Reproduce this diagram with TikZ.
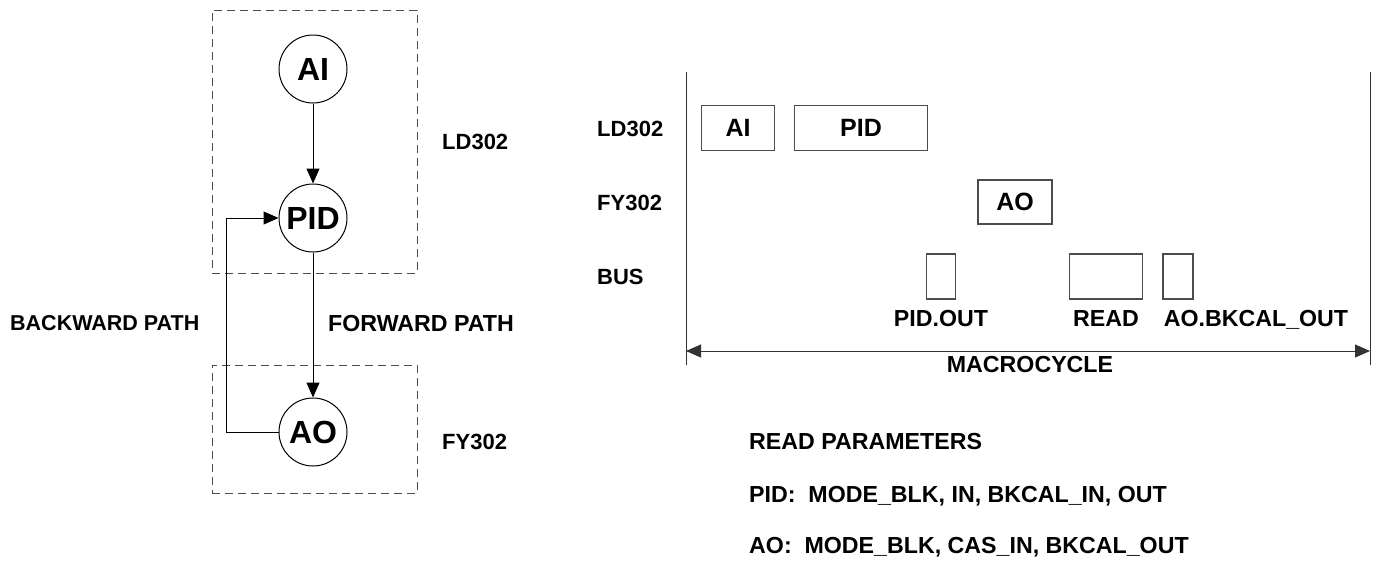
\documentclass[tikz,border=0pt]{standalone}
\usepackage{fontspec}
\setmainfont{Liberation Sans}
\usetikzlibrary{arrows.meta}
\tikzset{
  lbl/.style={font=\bfseries\fontsize{22}{26}\selectfont, inner sep=0pt, text height=15.8pt, text depth=0pt},
  lblb/.style={font=\bfseries\fontsize{23.2}{28}\selectfont, inner sep=0pt, text height=16.6pt, text depth=0pt},
  lbls/.style={font=\bfseries\fontsize{21.5}{26}\selectfont, inner sep=0pt, text height=15.4pt, text depth=0pt},
  circ/.style={circle, draw=black, line width=1pt, minimum size=68pt, inner sep=0pt,
     font=\bfseries\fontsize{32}{36}\selectfont, text height=22.9pt, text depth=0pt},
  blk/.style={draw=black!70, line width=1.3pt, inner sep=0pt,
     font=\bfseries\fontsize{25}{30}\selectfont, text height=17.9pt, text depth=0pt},
  dashbox/.style={draw=black!70, line width=1pt, dash pattern=on 8pt off 5pt, inner sep=0pt},
  arr/.style={line width=1pt, -{Triangle[length=15pt,width=13pt]}},
  plain/.style={line width=1pt, draw=black!80},
}
\begin{document}
\begin{tikzpicture}[x=1pt,y=-1pt]
\useasboundingbox (0,0) rectangle (1380,560);
% left diagram
\node[dashbox, minimum width=205pt, minimum height=263pt] (ldbox) at (314.5,141.5) {};
\node[dashbox, minimum width=205pt, minimum height=128pt] (fybox) at (314.5,429) {};
\node[circ] (AI) at (313,69) {AI};
\node[circ] (PID) at (313,218) {PID};
\node[circ] (AO) at (313,432) {AO};
\draw[arr] (AI) -- (PID);
\draw[arr] (PID) -- (AO);
\draw[arr] (AO.west) -- ++(-52,0) |- (PID.west);
\node[lbls, anchor=west] (bp) at (10,323) {BACKWARD PATH};
\node[lblb, anchor=west] (fp) at (328,323) {FORWARD PATH};
\node[lbl, anchor=west] (ld1) at (442,142) {LD302};
\node[lbl, anchor=west] (fy1) at (442,442) {FY302};
% timeline
\coordinate (tl) at (686,72);
\coordinate (bl) at (686,365);
\coordinate (tr) at (1370,72);
\coordinate (br) at (1370,365);
\coordinate (ml) at (686,351);
\coordinate (mr) at (1370,351);
\draw[plain] (tl) -- (bl);
\draw[plain] (tr) -- (br);
\draw[line width=1pt, draw=black!80, {Triangle[length=15pt,width=13pt]}-{Triangle[length=15pt,width=13pt]}] (ml) -- (mr);
\node[lbl, anchor=west] (ld2) at (597,129) {LD302};
\node[lbl, anchor=west] (fy2) at (597,203) {FY302};
\node[lbl, anchor=west] (bus) at (597,277) {BUS};
\node[blk, minimum width=73pt, minimum height=45pt] (bAI) at (738,128) {AI};
\node[blk, minimum width=133pt, minimum height=45pt] (bPID) at (861,128) {PID};
\node[blk, minimum width=74pt, minimum height=44pt] (bAO) at (1015,202) {AO};
\node[blk, minimum width=29pt, minimum height=45pt] (bus1) at (941,276.5) {};
\node[blk, minimum width=73pt, minimum height=45pt] (bus2) at (1106,276.5) {};
\node[blk, minimum width=30pt, minimum height=45pt] (bus3) at (1178,276.5) {};
\node[lblb] (t1) at (941,318) {PID.OUT};
\node[lblb] (t2) at (1106,318) {READ};
\node[lblb] (t3) at (1256,318) {AO.BKCAL\_OUT};
\node[lblb] (mc) at (1030,364) {MACROCYCLE};
% parameters
\node[lblb, anchor=west] (rp) at (749,441) {READ PARAMETERS};
\node[lblb, anchor=west] (rp1) at (749,494) {PID:\ \ MODE\_BLK, IN, BKCAL\_IN, OUT};
\node[lblb, anchor=west] (rp2) at (749,545) {AO:\ \ MODE\_BLK, CAS\_IN, BKCAL\_OUT};
\end{tikzpicture}
\end{document}
